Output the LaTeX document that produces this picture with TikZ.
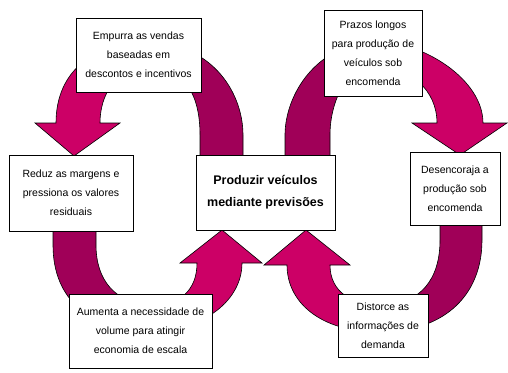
\documentclass[tikz,border=0pt]{standalone}
\usepackage{fontspec}
\setmainfont{Liberation Sans}
\usetikzlibrary{shadows}
\definecolor{MagentaFront}{RGB}{204,0,102}
\definecolor{MagentaBack}{RGB}{160,0,88}

\begin{document}
\begin{tikzpicture}[
x=1pt, y=-1pt,
font=\fontsize{10.5}{19}\selectfont,
box/.style={draw, fill=white, line width=0.7pt, align=center, inner sep=2pt,
    general shadow={fill=black!70, shadow xshift=0.8pt, shadow yshift=-0.8pt}},
front/.style={fill=MagentaFront, draw=black, line width=0.6pt},
back/.style={fill=MagentaBack, draw=black, line width=0.6pt}
]
    \useasboundingbox (0,0) rectangle (508,372);

    % Top left arrow
    \filldraw[back] (150,42) .. controls (215,45) and (243,95) .. (243,135)
        -- (243,162) -- (200,162) -- (200,135)
        .. controls (200,95) and (185,68) .. (150,68) -- cycle;
    \filldraw[front] (150,42) .. controls (95,42) and (56,70) .. (56,123)
        -- (35,123) -- (74,156) -- (120,123) -- (100,123)
        .. controls (100,95) and (115,68) .. (150,68) -- cycle;

    % Top right arrow
    \filldraw[back] (285,162) -- (285,135) .. controls (285,100) and (310,48) .. (373,40)
        -- (373,66) .. controls (348,66) and (330,100) .. (330,135) -- (330,162) -- cycle;
    \filldraw[front] (373,40) .. controls (425,42) and (483,80) .. (483,123)
        -- (507,123) -- (460,155) -- (412,123) -- (437,123)
        .. controls (437,90) and (410,66) .. (373,66) -- cycle;

    % Bottom left arrow
    \filldraw[back] (53,226) -- (53,245) .. controls (53,300) and (90,330) .. (150,332)
        -- (150,305) .. controls (115,303) and (96,280) .. (96,245) -- (96,226) -- cycle;
    \filldraw[front] (150,332) .. controls (205,330) and (242,300) .. (242,263)
        -- (262,263) -- (222,230) -- (180,263) -- (197,263)
        .. controls (197,290) and (180,306) .. (150,305) -- cycle;

    % Bottom right arrow
    \filldraw[back] (482,220) -- (482,240) .. controls (482,295) and (445,330) .. (385,332)
        -- (385,305) .. controls (420,303) and (440,280) .. (440,240) -- (440,220) -- cycle;
    \filldraw[front] (385,332) .. controls (325,334) and (287,305) .. (287,265)
        -- (264,265) -- (306,230) -- (350,265) -- (330,265)
        .. controls (330,292) and (352,306) .. (385,305) -- cycle;

    % Boxes
    \node[box, minimum width=139pt, minimum height=75pt,
        font=\bfseries\fontsize{12.5}{22}\selectfont] (forecast) at (265.5,192.5)
        {Produzir veículos\\mediante previsões};
    \node[box, minimum width=125pt, minimum height=74pt] (push) at (138.5,55)
        {Empurra as vendas\\baseadas em\\descontos e incentivos};
    \node[box, minimum width=98pt, minimum height=86pt] (leadtime) at (373,53)
        {Prazos longos\\para produção de\\veículos sob\\encomenda};
    \node[box, minimum width=124pt, minimum height=76pt] (margins) at (71,193)
        {Reduz as margens e\\pressiona os valores\\residuais};
    \node[box, minimum width=90pt, minimum height=73pt] (discourage) at (455,188.5)
        {Desencoraja a\\produção sob\\encomenda};
    \node[box, minimum width=143pt, minimum height=74pt] (volume) at (140.5,331)
        {Aumenta a necessidade de\\volume para atingir\\economia de escala};
    \node[box, minimum width=90pt, minimum height=63pt] (distort) at (383,325.5)
        {Distorce as\\informações de\\demanda};

\end{tikzpicture}
\end{document}
